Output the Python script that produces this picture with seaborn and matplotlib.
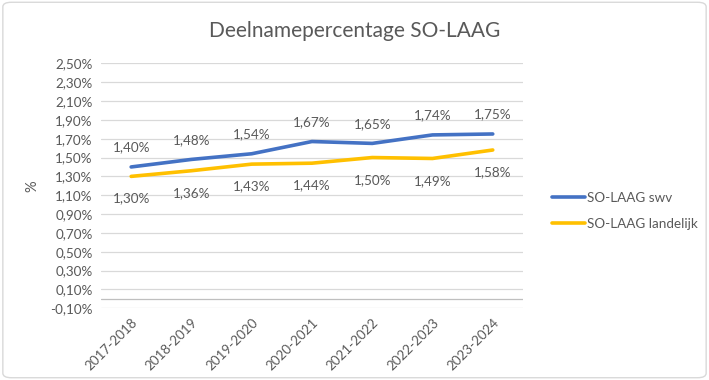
import pandas as pd
import matplotlib
matplotlib.use('Agg')
import matplotlib.pyplot as plt
from matplotlib.patches import FancyBboxPatch
import seaborn as sns

jaren = ['2017-2018', '2018-2019', '2019-2020', '2020-2021', '2021-2022', '2022-2023', '2023-2024']
swv = [1.40, 1.48, 1.54, 1.67, 1.65, 1.74, 1.75]
landelijk = [1.30, 1.36, 1.43, 1.44, 1.50, 1.49, 1.58]
reeksen = ['SO-LAAG swv', 'SO-LAAG landelijk']
kleuren = ['#4472C4', '#FFC000']

df = pd.DataFrame({
    'jaar': jaren * 2,
    'waarde': swv + landelijk,
    'reeks': [reeksen[0]] * len(jaren) + [reeksen[1]] * len(jaren),
})

sns.set_style('white')
plt.rcParams['font.family'] = ['Lato', 'DejaVu Sans']
tekst = '#595959'

fig = plt.figure(figsize=(7.09, 3.80), dpi=100)
ax = fig.add_axes([0.1425, 0.1887, 0.595, 0.6447])

sns.lineplot(data=df, x='jaar', y='waarde', hue='reeks', palette=kleuren,
             linewidth=2.6, ax=ax, legend=False, sort=False)

ax.set_xlim(-0.5, len(jaren) - 0.5)
ax.set_ylim(-0.10, 2.50)
yticks = [round(-0.10 + 0.2 * i, 2) for i in range(14)]
ax.set_yticks(yticks)
ax.set_yticklabels([f'{v:.2f}%'.replace('.', ',') for v in yticks], color=tekst, fontsize=9.7)
ax.grid(axis='y', color='#D9D9D9', linewidth=0.9)
ax.axhline(0, color='#BFBFBF', linewidth=0.9)
for s in ax.spines.values():
    s.set_visible(False)
ax.tick_params(axis='both', length=0, pad=6)
ax.set_xticks(range(len(jaren)))
ax.set_xticklabels(jaren, rotation=45, ha='right', rotation_mode='anchor', color=tekst, fontsize=9.7)
ax.set_xlabel('')
ax.set_ylabel('%', color=tekst, fontsize=10.5)
ax.yaxis.set_label_coords(-0.145, 0.5)

for i, v in enumerate(swv):
    ax.annotate(f'{v:.2f}%'.replace('.', ','), (i, v), xytext=(0, 14), textcoords='offset points',
                ha='center', va='center', color=tekst, fontsize=9.7)
for i, v in enumerate(landelijk):
    ax.annotate(f'{v:.2f}%'.replace('.', ','), (i, v), xytext=(0, -16), textcoords='offset points',
                ha='center', va='center', color=tekst, fontsize=9.7)

fig.text(0.5, 0.918, 'Deelnamepercentage SO-LAAG', ha='center', va='center', color=tekst, fontsize=15)

handles = [plt.Line2D([], [], color=c, linewidth=2.6) for c in kleuren]
fig.legend(handles, reeksen, loc='center left', bbox_to_anchor=(0.762, 0.445), frameon=False,
           fontsize=9.7, labelcolor=tekst, handlelength=2.4, handletextpad=0.2, labelspacing=1.0)

fig.patches.append(FancyBboxPatch((0.004, 0.006), 0.992, 0.988, boxstyle='round,pad=0,rounding_size=0.012',
                                  transform=fig.transFigure, fc='none', ec='#D9D9D9', linewidth=1))

fig.savefig('out.png', dpi=100, facecolor='white')
